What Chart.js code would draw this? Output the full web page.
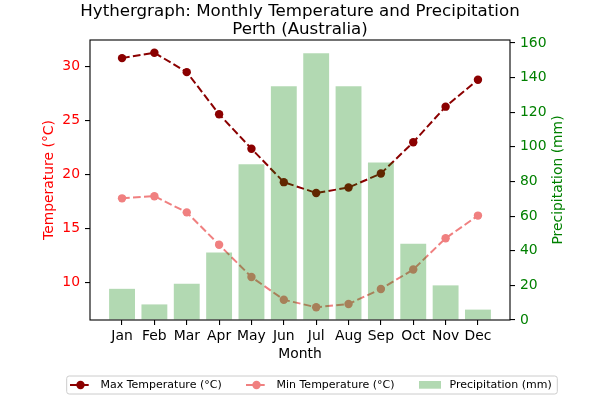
<!DOCTYPE html>
<html><head><meta charset="utf-8">
<script src="https://cdn.jsdelivr.net/npm/chart.js@4.4.1/dist/chart.umd.min.js"></script>
<style>html,body{margin:0;padding:0;background:#fff}#wrap{width:600px;height:400px}</style>
</head><body><div id="wrap"><canvas id="c" width="600" height="400"></canvas></div>
<script>
const months = ['Jan','Feb','Mar','Apr','May','Jun','Jul','Aug','Sep','Oct','Nov','Dec'];
const maxTemp = [30.8,31.3,29.5,25.6,22.4,19.3,18.3,18.8,20.1,23.0,26.3,28.8];
const minTemp = [17.8,18.0,16.5,13.5,10.5,8.4,7.7,8.0,9.4,11.2,14.1,16.2];
const precip = [18,9,21,39,90,135,154,135,91,44,20,6];
const tempTicks = [10,15,20,25,30];
const precipTicks = [0,20,40,60,80,100,120,140,160];
const titleLines = ['Hythergraph: Monthly Temperature and Precipitation','Perth (Australia)'];
const legendLabels = ['Max Temperature (°C)','Min Temperature (°C)','Precipitation (mm)'];
const rightTitle = 'Precipitation (mm)';

const FONT = 'DejaVu Sans';
const MAXC = '#8b0000', MINC = '#f08080', BARC = 'rgba(0,128,0,0.3)';
const pts = arr => arr.map((v,i)=>({x:i,y:v}));

const deco = {
  id:'deco',
  afterDatasetsDraw(chart){
    const ctx = chart.ctx, ca = chart.chartArea;
    ctx.save();
    ctx.strokeStyle = '#000'; ctx.lineWidth = 1.1;
    ctx.strokeRect(ca.left, ca.top, ca.right-ca.left, ca.bottom-ca.top);
    ctx.restore();
  },
  afterDraw(chart){
    const ctx = chart.ctx, ca = chart.chartArea;
    ctx.save();
    ctx.fillStyle = '#000';
    ctx.font = '16.67px "' + FONT + '"';
    ctx.textAlign = 'center'; ctx.textBaseline = 'alphabetic';
    ctx.fillText(titleLines[0], 300, 15.5);
    ctx.fillText(titleLines[1], 300, 33.5);
    // right axis title, rotated bottom-to-top
    ctx.save();
    ctx.translate(558, (ca.top+ca.bottom)/2);
    ctx.rotate(-Math.PI/2);
    ctx.fillStyle = '#008000';
    ctx.font = '13.9px "' + FONT + '"';
    ctx.textAlign='center'; ctx.textBaseline='middle';
    ctx.fillText(rightTitle, 0, 0);
    ctx.restore();
    // legend frame
    const x0=66.7, y0=376, x1=557.3, y1=394, r=2.5;
    ctx.beginPath();
    ctx.moveTo(x0+r,y0); ctx.lineTo(x1-r,y0); ctx.arcTo(x1,y0,x1,y0+r,r);
    ctx.lineTo(x1,y1-r); ctx.arcTo(x1,y1,x1-r,y1,r);
    ctx.lineTo(x0+r,y1); ctx.arcTo(x0,y1,x0,y1-r,r);
    ctx.lineTo(x0,y0+r); ctx.arcTo(x0,y0,x0+r,y0,r); ctx.closePath();
    ctx.fillStyle='rgba(255,255,255,0.8)'; ctx.fill();
    ctx.strokeStyle='#cccccc'; ctx.lineWidth=1; ctx.stroke();
    const cy = 385;
    const lineHandle = (xs, col) => {
      ctx.strokeStyle = col; ctx.lineWidth = 2; ctx.setLineDash([7.7,3.3]);
      ctx.beginPath(); ctx.moveTo(xs,cy); ctx.lineTo(xs+21,cy); ctx.stroke();
      ctx.setLineDash([]);
      ctx.fillStyle = col; ctx.beginPath(); ctx.arc(xs+10.5,cy,4.2,0,Math.PI*2); ctx.fill();
    };
    lineHandle(70, MAXC);
    lineHandle(246, MINC);
    ctx.fillStyle = BARC; ctx.fillRect(419, 381, 22, 7.7);
    ctx.fillStyle = '#000'; ctx.font = '11px "' + FONT + '"';
    ctx.textAlign='left'; ctx.textBaseline='middle';
    ctx.fillText(legendLabels[0], 100.5, cy);
    ctx.fillText(legendLabels[1], 276.5, cy);
    ctx.fillText(legendLabels[2], 449.5, cy);
    ctx.restore();
  }
};

const tickFont = {family: FONT, size: 13.9};
new Chart(document.getElementById('c'), {
  type: 'bar',
  data: {
    datasets: [
      {type:'line', label: legendLabels[0], data: pts(maxTemp), yAxisID:'y', borderColor: MAXC, backgroundColor: MAXC,
       borderWidth: 2, borderDash:[7.7,3.3], pointRadius:4.2, pointBorderWidth:0, pointHoverRadius:4.2, order:1},
      {type:'line', label: legendLabels[1], data: pts(minTemp), yAxisID:'y', borderColor: MINC, backgroundColor: MINC,
       borderWidth: 2, borderDash:[7.7,3.3], pointRadius:4.2, pointBorderWidth:0, pointHoverRadius:4.2, order:2},
      {type:'bar', label: legendLabels[2], data: pts(precip), yAxisID:'y1', backgroundColor: BARC,
       barPercentage:0.8, categoryPercentage:1.0, order:0}
    ]
  },
  options: {
    responsive:false, animation:false, devicePixelRatio:1,
    layout:{padding:{top:40, left:41, right:34, bottom:37}},
    plugins:{legend:{display:false}, title:{display:false}, tooltip:{enabled:false}},
    scales:{
      x:{type:'linear', position:'bottom', min:-0.99, max:11.99, offset:false,
         afterBuildTicks: s => { s.ticks = months.map((m,i)=>({value:i})); },
         afterFit: s => { s.height = 43; },
         ticks:{callback: v => months[v], color:'#000', font:tickFont, padding:3, autoSkip:false, maxRotation:0},
         grid:{offset:false, drawOnChartArea:false, drawTicks:true, tickLength:5, color:'#000', lineWidth:1.1},
         border:{display:false},
         title:{display:true, text:'Month', color:'#000', font:tickFont, padding:0}},
      y:{position:'left', min:6.52, max:32.48,
         afterBuildTicks: s => { s.ticks = tempTicks.map(v=>({value:v})); },
         afterFit: s => { s.width = 49; },
         ticks:{callback: v => String(v), color:'#ff0000', font:tickFont, padding:5},
         grid:{drawOnChartArea:false, drawTicks:true, tickLength:5, color:'#000', lineWidth:1.1},
         border:{display:false},
         title:{display:true, text:'Temperature (°C)', color:'#ff0000', font:tickFont, padding:0}},
      y1:{position:'right', min:0, max:161.7,
         afterBuildTicks: s => { s.ticks = precipTicks.map(v=>({value:v})); },
         afterFit: s => { s.width = 56; },
         ticks:{callback: v => String(v), color:'#008000', font:tickFont, padding:5},
         grid:{drawOnChartArea:false, drawTicks:true, tickLength:5, color:'#000', lineWidth:1.1},
         border:{display:false},
         title:{display:false}}
    }
  },
  plugins:[deco]
});
</script></body></html>
